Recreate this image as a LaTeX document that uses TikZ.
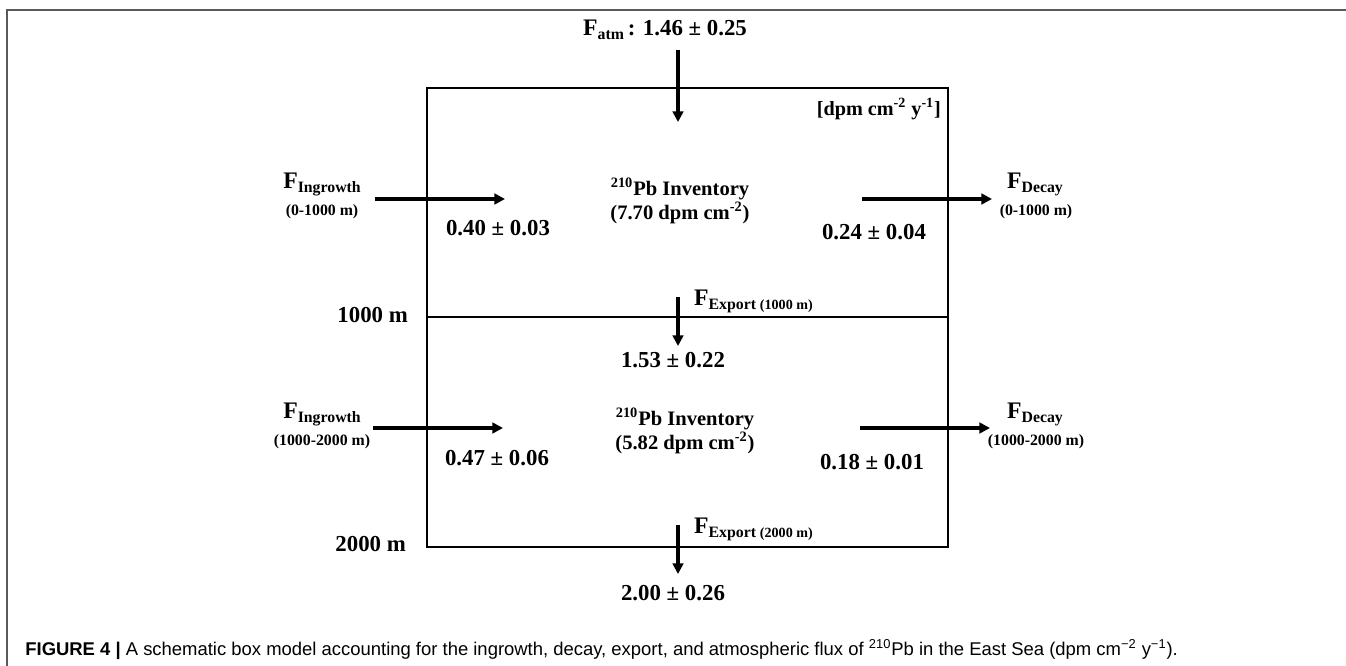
\documentclass[tikz,border=0pt]{standalone}
\usepackage{fontspec}
\setmainfont{Liberation Serif}
\newfontfamily\capfont{Liberation Sans}
\usetikzlibrary{positioning,arrows.meta}
\newcommand{\Fsub}[1]{F\raisebox{-2.8pt}{\fontsize{9}{10}\selectfont #1}}
\newcommand{\smallpar}[1]{{\fontsize{8}{9}\selectfont #1}}

\begin{document}
\begin{tikzpicture}[x=0.02cm,y=-0.02cm,
    flux/.style={-{Triangle[length=6pt,width=6pt]},line width=1.8pt},
    wall/.style={line width=1.5pt},
    val/.style={font=\fontsize{13}{15}\selectfont\bfseries,inner sep=1pt},
    fname/.style={font=\fontsize{13.5}{15}\selectfont\bfseries,inner sep=1pt,anchor=base},
    depth/.style={font=\fontsize{9}{10}\selectfont\bfseries,inner sep=1pt,anchor=base},
    inv/.style={font=\fontsize{11.7}{13.7}\selectfont\bfseries,align=center,inner sep=1pt}]
  \useasboundingbox (0,0) rectangle (1346,666);
  % page frame
  \draw[black!65,line width=0.8pt] (1346,10) -- (7,10) -- (7,666);

  % the two boxes
  \coordinate (tl) at (427,88);
  \coordinate (br) at (948,547);
  \coordinate (mid) at (427,317);
  \draw[wall] (tl) rectangle (br);
  \draw[wall] (mid) -- (mid -| br);
  \node[val,anchor=east] (d1) at (410,315) {1000 m};
  \node[val,anchor=east] (d2) at (408,544) {2000 m};
  \node[anchor=east,inner sep=1pt,font=\fontsize{11.5}{13}\selectfont\bfseries] (unit) at (943,109) {[dpm cm\textsuperscript{-2} y\textsuperscript{-1}]};

  % atmospheric input
  \node[fname] (fatm) at (665,35) {\Fsub{atm}\fontsize{13}{15}\selectfont\,: 1.46 ± 0.25};
  \coordinate (atm0) at (678,50);
  \coordinate (atmtip) at (678,122);
  \draw[flux] (atm0) -- (atmtip);

  % upper layer
  \node[inv] (inv1) at (680,201) {\textsuperscript{210}Pb Inventory\\(7.70 dpm cm\textsuperscript{-2})};
  \node[fname] (ing1) at (322,188) {\Fsub{Ingrowth}};
  \node[depth] (ing1d) at (322,215) {(0-1000 m)};
  \coordinate (ing1a) at (375,199);
  \coordinate (ing1b) at (505,199);
  \draw[flux] (ing1a) -- (ing1b);
  \node[val] (v1) at (498,228) {0.40 ± 0.03};
  \node[fname] (dec1) at (1035,188) {\Fsub{Decay}};
  \node[depth] (dec1d) at (1036,215) {(0-1000 m)};
  \coordinate (dec1a) at (862,199);
  \coordinate (dec1b) at (992,199);
  \draw[flux] (dec1a) -- (dec1b);
  \node[val] (v2) at (874,232) {0.24 ± 0.04};

  % export at 1000 m
  \coordinate (ex1a) at (678,297);
  \coordinate (ex1b) at (678,346);
  \draw[flux] (ex1a) -- (ex1b);
  \node[fname,anchor=base west] (ex1) at (692,305) {\Fsub{Export \smallpar{(1000 m)}}};
  \node[val] (v3) at (673,360) {1.53 ± 0.22};

  % lower layer
  \node[inv] (inv2) at (685,431) {\textsuperscript{210}Pb Inventory\\(5.82 dpm cm\textsuperscript{-2})};
  \node[fname] (ing2) at (322,418) {\Fsub{Ingrowth}};
  \node[depth] (ing2d) at (322,445) {(1000-2000 m)};
  \coordinate (ing2a) at (373,428);
  \coordinate (ing2b) at (503,428);
  \draw[flux] (ing2a) -- (ing2b);
  \node[val] (v4) at (497,458) {0.47 ± 0.06};
  \node[fname] (dec2) at (1035,418) {\Fsub{Decay}};
  \node[depth] (dec2d) at (1036,445) {(1000-2000 m)};
  \coordinate (dec2a) at (860,428);
  \coordinate (dec2b) at (990,428);
  \draw[flux] (dec2a) -- (dec2b);
  \node[val] (v5) at (872,462) {0.18 ± 0.01};

  % export at 2000 m
  \coordinate (ex2a) at (678,525);
  \coordinate (ex2b) at (678,574);
  \draw[flux] (ex2a) -- (ex2b);
  \node[fname,anchor=base west] (ex2) at (692,533) {\Fsub{Export \smallpar{(2000 m)}}};
  \node[val] (v6) at (673,593) {2.00 ± 0.26};

  % caption
  \node[anchor=base west,inner sep=0,font=\capfont\fontsize{10.5}{12}\selectfont] (cap) at (25,655)
    {\textbf{FIGURE 4 |} A schematic box model accounting for the ingrowth, decay, export, and atmospheric flux of \textsuperscript{210}Pb in the East Sea (dpm cm\textsuperscript{−2} y\textsuperscript{−1}).};
\end{tikzpicture}
\end{document}
